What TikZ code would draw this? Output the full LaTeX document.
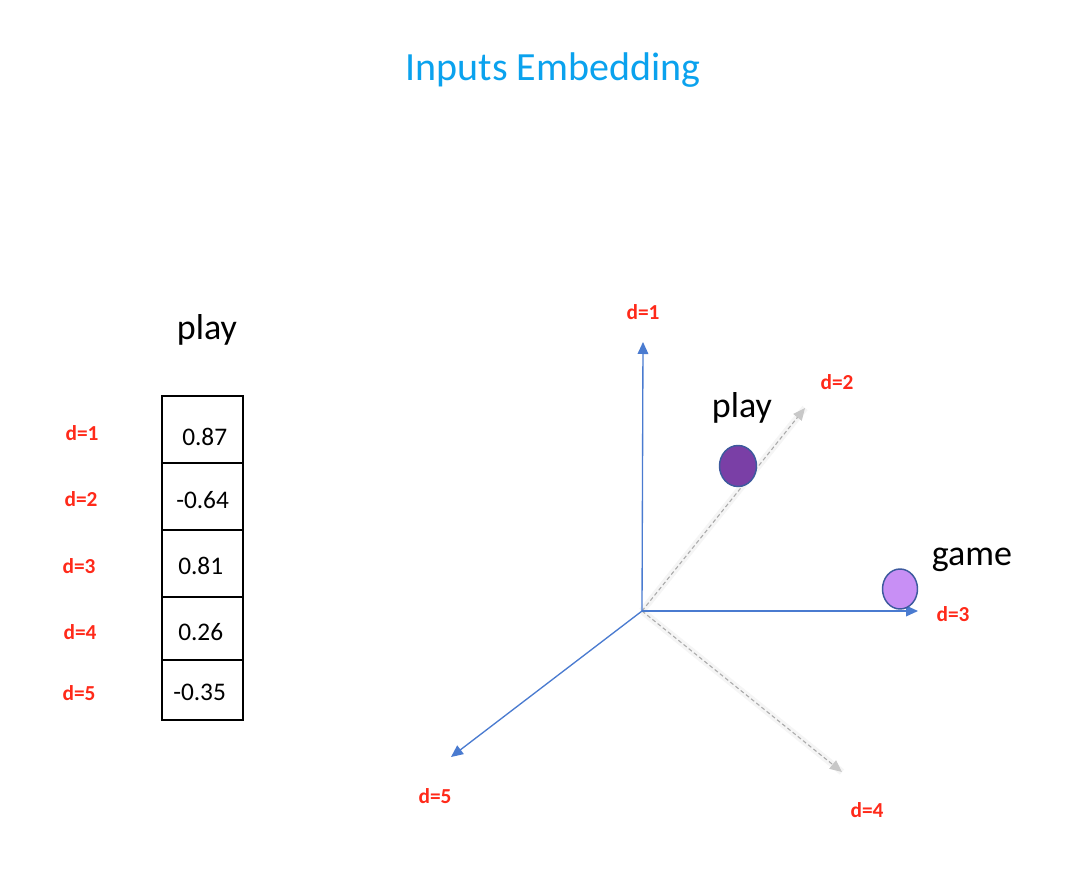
\documentclass[tikz,border=0pt]{standalone}
\usepackage{fontspec}
\setmainfont{Carlito}
\usetikzlibrary{arrows.meta,shapes.geometric}
\definecolor{titleblue}{HTML}{0AA2EE}
\definecolor{dimred}{HTML}{FF2A1A}
\definecolor{axisblue}{HTML}{4A7BD0}
\definecolor{ghost}{HTML}{C8C8C8}
\definecolor{playfill}{HTML}{7A3FA6}
\definecolor{gamefill}{HTML}{C88FF5}
\definecolor{ringblue}{HTML}{3D5A9E}
\tikzset{
  dimlabel/.style={text=dimred, font=\fontsize{16}{19}\selectfont\bfseries},
  cellval/.style={font=\fontsize{19}{22}\selectfont, anchor=west, inner sep=0pt},
  word/.style={font=\fontsize{27}{31}\selectfont},
  axis/.style={draw=axisblue, line width=1pt, -{Triangle[length=9pt,width=8pt]}},
  ghostaxis/.style={draw=ghost!85!black, dash pattern=on 3pt off 2pt, line width=0.8pt,
    -{Triangle[length=9pt,width=8pt,color=ghost]}},
  halo/.style={draw=ghost!40, line width=5pt, opacity=0.45},
  dot/.style={ellipse, draw=ringblue, line width=1.1pt, inner sep=0pt},
}
\begin{document}
\begin{tikzpicture}[x=0.75pt, y=-0.75pt]
\useasboundingbox[fill=white] (0,0) rectangle (1082,891);

% title
\node[text=titleblue, font=\fontsize{30}{36}\selectfont] (title) at (553,70) {Inputs Embedding};

% word vector table
\node[word] (vword) at (207,330) {play};
\foreach \name/\top/\bot in {r1/396/463, r2/463/530, r3/530/597, r4/597/660, r5/660/720}{
  \draw[line width=1.1pt] (162,\top) rectangle (243,\bot);
}
\node[cellval] (v1) at (182,437) {0.87};
\node[cellval] (v2) at (176,500) {-0.64};
\node[cellval] (v3) at (178,566) {0.81};
\node[cellval] (v4) at (178,632) {0.26};
\node[cellval] (v5) at (173,692) {-0.35};

\node[dimlabel] (l1) at (82,433) {d=1};
\node[dimlabel] (l2) at (81,499) {d=2};
\node[dimlabel] (l3) at (79,566) {d=3};
\node[dimlabel] (l4) at (80,632) {d=4};
\node[dimlabel] (l5) at (79,693) {d=5};

% embedding space
\coordinate (o) at (642,611);
\coordinate (e1) at (643,342);
\coordinate (e2) at (805,408);
\coordinate (e3) at (918,611);
\coordinate (e4) at (842,772);
\coordinate (e5) at (451,757);

\draw[halo] (o) -- (e2);
\draw[halo] (o) -- (e4);
\draw[ghostaxis] (o) -- (e2);
\draw[ghostaxis] (o) -- (e4);
\draw[axis] (o) -- (e1);
\draw[axis] (o) -- (e3);
\draw[axis] (o) -- (e5);

\node[dimlabel] (a1) at (643,312) {d=1};
\node[dimlabel] (a2) at (837,382) {d=2};
\node[dimlabel] (a3) at (953,614) {d=3};
\node[dimlabel] (a4) at (867,810) {d=4};
\node[dimlabel] (a5) at (435,796) {d=5};

\node[dot, fill=playfill, minimum width=37*0.75pt, minimum height=41*0.75pt] (pdot) at (738,466) {};
\node[dot, fill=gamefill, minimum width=35*0.75pt, minimum height=40*0.75pt] (gdot) at (900,589) {};
\node[word] (pword) at (742,408) {play};
\node[word] (gword) at (972,560) {game};
\end{tikzpicture}
\end{document}
